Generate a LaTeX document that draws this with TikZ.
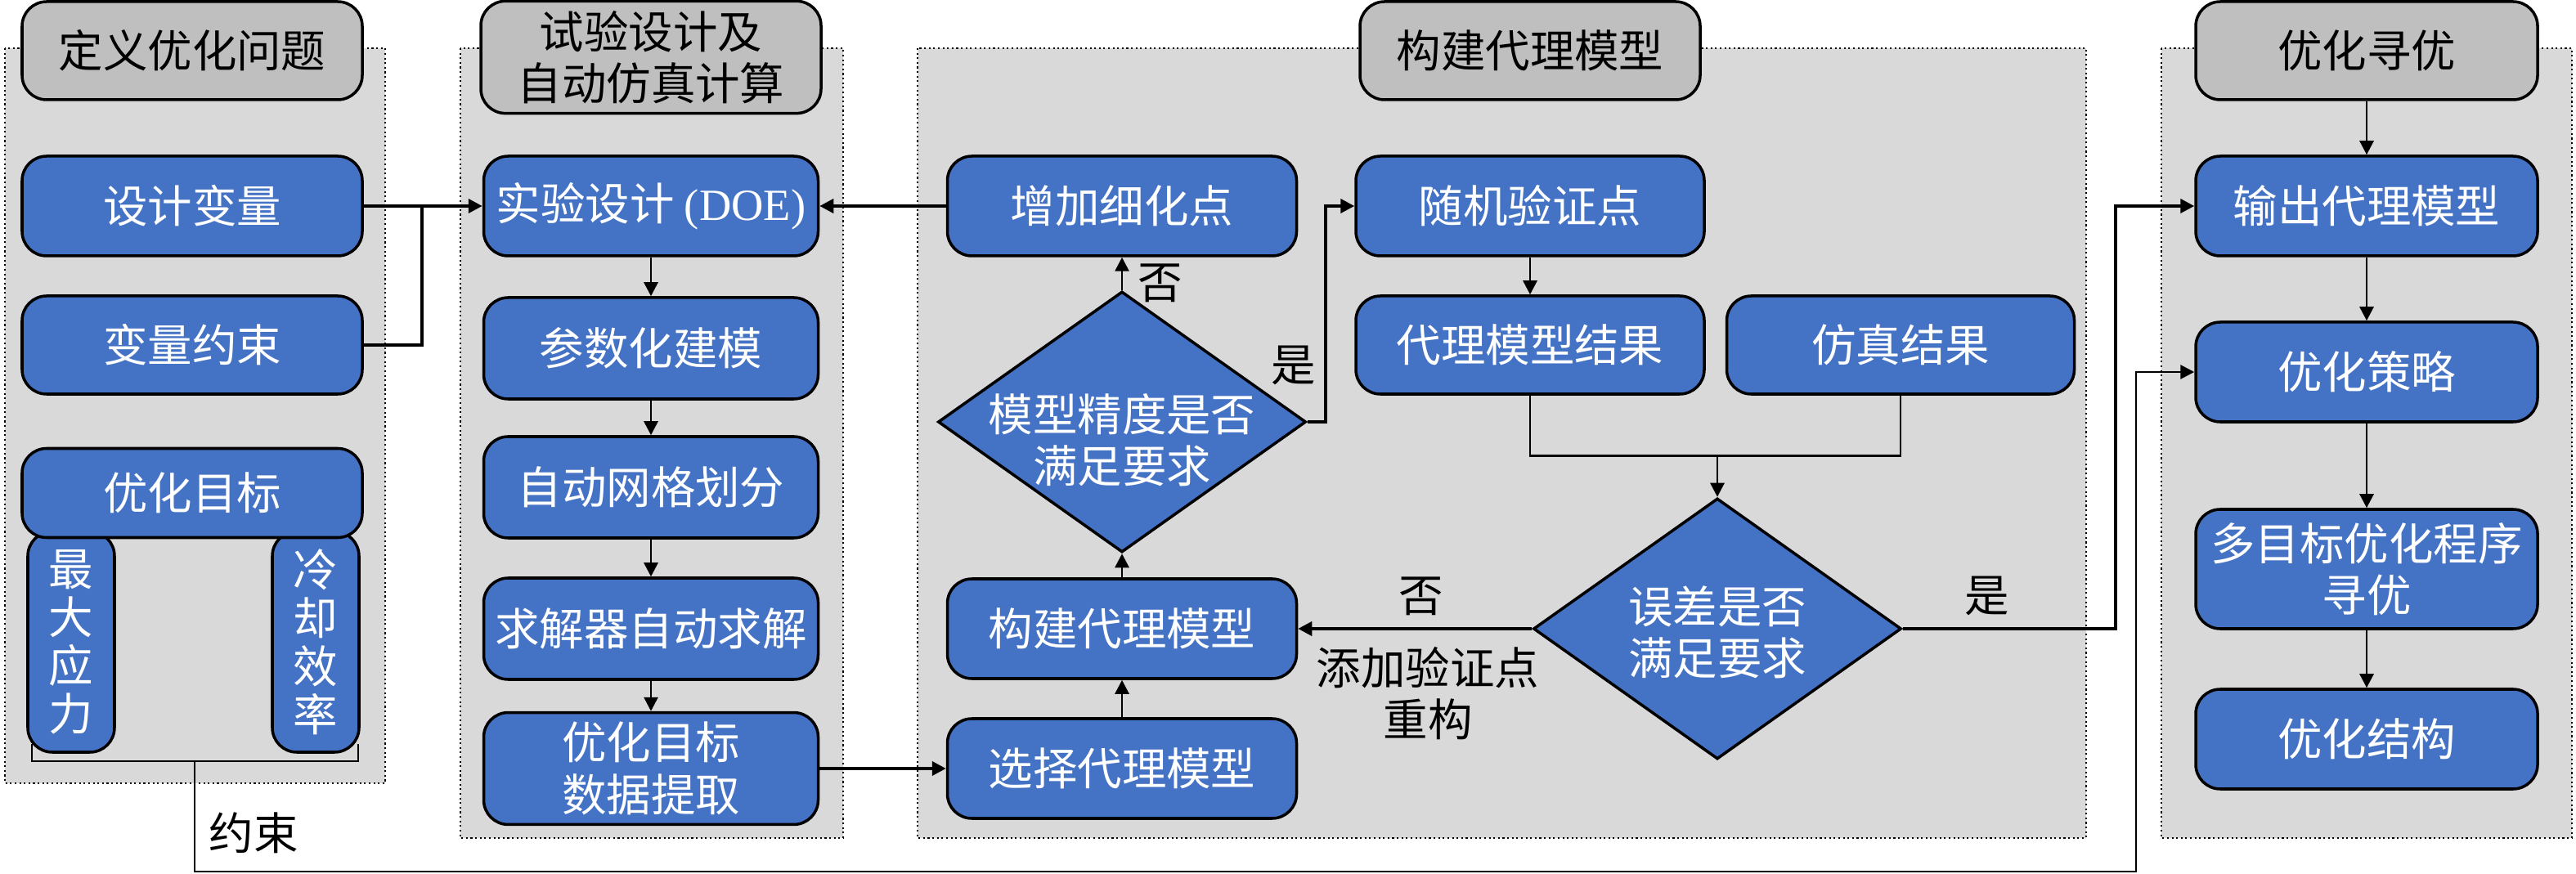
\documentclass[tikz,border=0pt]{standalone}
\usepackage{fontspec}
\setmainfont{Noto Sans CJK SC}
\newfontfamily\latinfont{Liberation Serif}
\usetikzlibrary{shapes.geometric,arrows.meta}

\definecolor{boxblue}{HTML}{4472C4}
\definecolor{headgray}{HTML}{BFBFBF}
\definecolor{panelgray}{HTML}{D9D9D9}

\begin{document}
\begin{tikzpicture}[
            every node/.style={font=\fontsize{15.5}{18}\selectfont, align=center},
            panel/.style={draw, densely dotted, fill=panelgray, line width=.6pt},
            head/.style={draw, rounded corners=.3cm, fill=headgray, line width=1pt, minimum width=4.16cm, minimum height=1.2cm},
            box/.style={draw, rounded corners=.3cm, fill=boxblue, text=white, line width=1pt, minimum width=4.1cm, minimum height=1.22cm},
            tall/.style={box, minimum width=1.06cm, minimum height=2.7cm, inner sep=0pt, font=\fontsize{15.5}{16.8}\selectfont},
            dia/.style={draw, diamond, fill=boxblue, line width=1pt, minimum width=4.5cm, minimum height=3.19cm, inner sep=0pt},
            line/.style={line width=.8pt},
            arr/.style={line, -{Triangle[length=.17cm, width=.17cm]}},
            tarr/.style={arr, line width=1.1pt},
            ]

        \useasboundingbox (0,0) rectangle (31.5,-10.69);

        \draw[panel] (0.06,-0.59) rectangle (4.71,-9.58);
        \draw[panel] (5.63,-0.59) rectangle (10.31,-10.25);
        \draw[panel] (11.22,-0.59) rectangle (25.51,-10.25);
        \draw[panel] (26.43,-0.59) rectangle (31.45,-10.25);

        \node[head] (h1) at (2.35,-0.62) {定义优化问题};
        \node[head, minimum height=1.37cm] (h2) at (7.96,-0.70) {试验设计及\\自动仿真计算};
        \node[head] (h3) at (18.71,-0.62) {构建代理模型};
        \node[head, minimum width=4.18cm] (h4) at (28.94,-0.62) {优化寻优};

        % define the problem
        \node[box, minimum width=4.16cm] (dv) at (2.35,-2.52) {设计变量};
        \node[box, minimum width=4.16cm, minimum height=1.2cm] (vc) at (2.35,-4.22) {变量约束};
        \node[tall] (ms) at (0.87,-7.85) {最\\大\\应\\力};
        \node[tall] (ce) at (3.86,-7.85) {冷\\却\\效\\率};
        \node[box, minimum width=4.16cm, minimum height=1.09cm] (ob) at (2.35,-6.03) {优化目标};

        % doe and simulation
        \node[box, minimum width=4.09cm] (doe) at (7.96,-2.52) {实验设计 {\latinfont (DOE)}};
        \node[box, minimum width=4.09cm, minimum height=1.24cm] (pm) at (7.96,-4.26) {参数化建模};
        \node[box, minimum width=4.09cm, minimum height=1.24cm] (mg) at (7.96,-5.96) {自动网格划分};
        \node[box, minimum width=4.09cm, minimum height=1.24cm] (sv) at (7.96,-7.69) {求解器自动求解};
        \node[box, minimum width=4.09cm, minimum height=1.36cm] (de) at (7.96,-9.40) {优化目标\\数据提取};

        % surrogate model
        \node[box, minimum width=4.27cm] (add) at (13.72,-2.52) {增加细化点};
        \node[dia] (q1) at (13.72,-5.16) {};
        \node[text=white] (q1t) at (13.72,-5.38) {模型精度是否\\满足要求};
        \node[box, minimum width=4.27cm] (bm) at (13.72,-7.69) {构建代理模型};
        \node[box, minimum width=4.27cm] (sm) at (13.72,-9.40) {选择代理模型};
        \node[box, minimum width=4.26cm] (rv) at (18.71,-2.52) {随机验证点};
        \node[box, minimum width=4.26cm, minimum height=1.2cm] (sr) at (18.71,-4.22) {代理模型结果};
        \node[box, minimum width=4.25cm, minimum height=1.2cm] (fr) at (23.24,-4.22) {仿真结果};
        \node[dia] (q2) at (21.00,-7.69) {};
        \node[text=white] (q2t) at (21.00,-7.73) {误差是否\\满足要求};

        % optimisation
        \node[box, minimum width=4.18cm] (oo) at (28.94,-2.52) {输出代理模型};
        \node[box, minimum width=4.18cm] (os) at (28.94,-4.55) {优化策略};
        \node[box, minimum width=4.18cm, minimum height=1.46cm] (mo) at (28.94,-6.96) {多目标优化程序\\寻优};
        \node[box, minimum width=4.18cm] (st) at (28.94,-9.04) {优化结构};

        \node (no1) at (14.19,-3.46) {否};
        \node (yes1) at (15.82,-4.47) {是};
        \node (no2) at (17.38,-7.29) {否};
        \node (rb) at (17.46,-8.48) {添加验证点\\重构};
        \node (yes2) at (24.30,-7.29) {是};
        \node (cs) at (3.10,-10.19) {约束};

        \coordinate (j1) at (5.16,-2.52);
        \coordinate (k1) at (16.21,-2.52);
        \coordinate (m2) at (21.00,-5.575);
        \coordinate (k2) at (25.87,-2.52);
        \coordinate (b0) at (2.38,-9.31);
        \coordinate (c1) at (26.12,-10.66);

        \draw[tarr] (dv) -- (doe);
        \draw[tarr, -] (vc.east) -| (j1);
        \draw[tarr] (add) -- (doe);
        \foreach \a/\b in {doe/pm, pm/mg, mg/sv, sv/de}
            \draw[arr] (\a) -- (\b);
        \draw[tarr] (de) -- (sm);
        \draw[arr] (sm) -- (bm);
        \draw[arr] (bm) -- (q1.south);
        \draw[arr] (q1.north) -- (add);
        \draw[tarr] (q1.east) -| (k1) -- (rv.west);
        \draw[arr] (rv) -- (sr);
        \draw[line] (sr.south) |- (m2) -| (fr.south);
        \draw[arr] (m2) -- (q2.north);
        \draw[tarr] (q2.west) -- (bm.east);
        \draw[tarr] (q2.east) -| (k2) -- (oo.west);
        \foreach \a/\b in {h4/oo, oo/os, os/mo, mo/st}
            \draw[arr] (\a) -- (\b);

        \draw[line] (0.39,-9.10) -- (0.39,-9.31) -- (4.38,-9.31) -- (4.38,-9.10);
        \draw[arr] (b0) |- (c1) |- (os.west);
    \end{tikzpicture}
\end{document}
